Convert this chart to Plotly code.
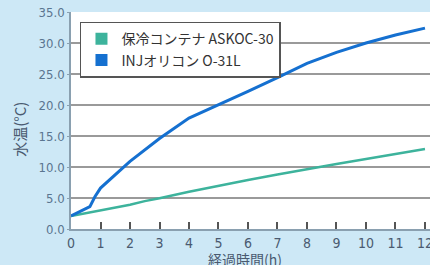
import plotly.graph_objects as go

hours_a = [0, 1, 2, 2.5, 3, 4, 5, 6, 7, 8, 9, 10, 11, 12]
temp_a = [2.1, 2.95, 3.9, 4.5, 4.95, 6.0, 7.0, 7.9, 8.8, 9.7, 10.5, 11.3, 12.1, 12.9]
hours_b = [0, 0.64, 0.81, 1, 2, 3, 4, 5, 6, 7, 8, 9, 10, 11, 12]
temp_b = [2.1, 3.6, 5.2, 6.6, 10.9, 14.6, 17.9, 20.0, 22.2, 24.4, 26.7, 28.5, 30.0, 31.3, 32.4]
name_a = "保冷コンテナ ASKOC-30"
name_b = "INJオリコン O-31L"
x_ticks = list(range(0, 13))
y_ticks = [0, 5, 10, 15, 20, 25, 30, 35]
y_labels = ["0.0", "5.0", "10.0", "15.0", "20.0", "25.0", "30.0", "35.0"]

green = "#3db39c"
blue = "#1570d0"
font_num = "DejaVu Sans Condensed, Liberation Sans Narrow, Liberation Sans, sans-serif"
font_jp = "Noto Sans CJK JP, sans-serif"

fig = go.Figure()
fig.add_trace(go.Scatter(x=hours_a, y=temp_a, mode="lines", line=dict(color=green, width=2.5),
                         showlegend=False))
fig.add_trace(go.Scatter(x=hours_b, y=temp_b, mode="lines", line=dict(color=blue, width=3),
                         showlegend=False))
fig.add_trace(go.Scatter(x=[None], y=[None], mode="markers", name=name_a,
                         marker=dict(symbol="square", size=12, color=green)))
fig.add_trace(go.Scatter(x=[None], y=[None], mode="markers", name=name_b,
                         marker=dict(symbol="square", size=12, color=blue)))

fig.update_layout(
    width=430, height=265,
    margin=dict(l=71, r=0, t=12, b=36),
    paper_bgcolor="#cde8f6",
    plot_bgcolor="white",
    showlegend=True,
    legend=dict(x=0.025, y=0.955, xanchor="left", yanchor="top",
                bgcolor="white", bordercolor="#555555", borderwidth=1.5,
                font=dict(family=font_jp, size=14, color="#333333"),
                itemwidth=30, tracegroupgap=0),
    xaxis=dict(range=[0, 12.17], tickvals=x_ticks, ticks="inside", ticklen=7,
               tickcolor="#555555", tickwidth=1.5, showgrid=False, zeroline=False,
               showline=True, linecolor="#8aa0b0", linewidth=1.5, automargin=False,
               ticklabeloverflow="allow",
               tickfont=dict(family=font_num, size=14, color="#4a5a70")),
    yaxis=dict(range=[0, 35], tickvals=y_ticks, ticktext=y_labels, ticks="outside", ticklen=2,
               tickcolor="#8aa0b0", showgrid=True, gridcolor="#9a9a9a", gridwidth=1.5,
               zeroline=False, showline=True, linecolor="#8aa0b0", linewidth=1.5, automargin=False,
               ticklabeloverflow="allow",
               tickfont=dict(family=font_num, size=13, color="#5a7590")),
    annotations=[
        dict(text="経過時間(h)", xref="paper", yref="paper", x=0.485, y=-0.136,
             xanchor="center", yanchor="middle", showarrow=False,
             font=dict(family=font_jp, size=14, color="#4a5a70")),
        dict(text="水温(°C)", xref="paper", yref="paper", x=-0.143, y=0.46,
             xanchor="center", yanchor="middle", showarrow=False, textangle=-90,
             font=dict(family=font_jp, size=15, color="#4a5a70")),
    ],
)

fig.write_html("out.html", config={"displayModeBar": False},
               post_script="document.body.style.margin='0';document.body.style.overflow='hidden';")
